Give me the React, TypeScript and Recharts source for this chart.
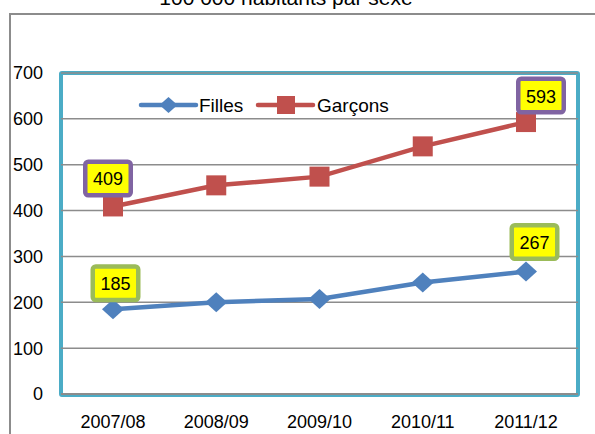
import React from 'react';
import { LineChart, Line, XAxis, YAxis, CartesianGrid, LabelList } from 'recharts';

const categories = ['2007/08', '2008/09', '2009/10', '2010/11', '2011/12'];
const filles = [185, 200, 207, 243, 267];
const garcons = [409, 455, 474, 540, 593];
const yTicks = [0, 100, 200, 300, 400, 500, 600, 700];
const seriesNames = ['Filles', 'Garçons'];
const labelledIndices = [0, 4];
const titleText = '100 000 habitants par sexe';

const data = categories.map((c, i) => ({ cat: c, filles: filles[i], garcons: garcons[i] }));

const FONT = '"Liberation Sans", Arial, Helvetica, sans-serif';
const BLUE = '#4F81BD';
const RED = '#C0504D';
const TEAL = '#4BACC6';
const GRID = '#8C8C8C';
const PURPLE = '#8064A2';
const GREEN = '#9BBB59';

const diamondPath = (cx: number, cy: number, hw: number, hh: number) =>
  `M${cx},${cy - hh} L${cx + hw},${cy} L${cx},${cy + hh} L${cx - hw},${cy} Z`;

const DiamondDot = (p: any) => {
  if (p.cx == null || p.cy == null) return <g key={p.key} />;
  return <path key={p.key} d={diamondPath(p.cx, p.cy, 11, 10)} fill={BLUE} />;
};

const SquareDot = (p: any) => {
  if (p.cx == null || p.cy == null) return <g key={p.key} />;
  return <rect key={p.key} x={p.cx - 10} y={p.cy - 10} width={20} height={20} fill={RED} />;
};

const makeLabel = (border: string, offsets: Record<number, [number, number]>) => (props: any) => {
  const { x, y, value, index } = props;
  if (!labelledIndices.includes(index)) return null;
  const [dx, dy] = offsets[index] || [0, -28];
  const cx = x + dx;
  const cy = y + dy;
  const w = 50;
  const h = 38;
  const sw = 4.5;
  return (
    <g key={`lbl-${index}`}>
      <rect
        x={cx - w / 2 + sw / 2}
        y={cy - h / 2 + sw / 2}
        width={w - sw}
        height={h - sw}
        rx={3}
        fill="#FFFF00"
        stroke={border}
        strokeWidth={sw}
      />
      <text x={cx} y={cy + 1} textAnchor="middle" dominantBaseline="central" fontSize={18} fontFamily={FONT} fill="#000">
        {value}
      </text>
    </g>
  );
};

const garconsLabel = makeLabel(PURPLE, { 0: [-5, -28], 4: [15, -26.5] });
const fillesLabel = makeLabel(GREEN, { 0: [2.5, -26], 4: [8.5, -29.5] });

const Legend = () => (
  <svg width={300} height={30} style={{ position: 'absolute', left: 130, top: 90, overflow: 'visible' }}>
    <g transform="translate(-130,-90)">
      <line x1={141} y1={105} x2={196} y2={105} stroke={BLUE} strokeWidth={4.5} strokeLinecap="round" />
      <path d={diamondPath(168.5, 105, 9, 8)} fill={BLUE} />
      <text x={199} y={105} dominantBaseline="central" fontSize={19} fontFamily={FONT} fill="#000">
        {seriesNames[0]}
      </text>
      <line x1={258} y1={105} x2={313} y2={105} stroke={RED} strokeWidth={4.5} strokeLinecap="round" />
      <rect x={277} y={96} width={18} height={18} fill={RED} />
      <text x={317} y={105} dominantBaseline="central" fontSize={19} fontFamily={FONT} fill="#000">
        {seriesNames[1]}
      </text>
    </g>
  </svg>
);

export default function App() {
  return (
    <div style={{ position: 'absolute', left: 0, top: 0, width: 595, height: 434, overflow: 'hidden', background: '#fff' }}>
      <div
        style={{
          position: 'absolute',
          left: 9,
          top: 13,
          width: 700,
          height: 600,
          border: '2px solid #8C8C8C',
        }}
      />
      <div
        style={{
          position: 'absolute',
          left: 0,
          width: 572,
          top: -14,
          textAlign: 'center',
          fontFamily: FONT,
          fontSize: 21,
          lineHeight: '24px',
          color: '#000',
          whiteSpace: 'nowrap',
        }}
      >
        {titleText}
      </div>
      <div
        style={{
          position: 'absolute',
          left: 59,
          top: 71,
          width: 513,
          height: 318,
          border: `4px solid ${TEAL}`,
          borderRadius: 3,
        }}
      />
      <div style={{ position: 'absolute', left: 0, top: 0 }}>
        <LineChart width={595} height={434} data={data} margin={{ top: 73, right: 17, bottom: 0, left: 0 }}>
          <CartesianGrid vertical={false} stroke={GRID} strokeWidth={1.5} />
          <XAxis
            dataKey="cat"
            height={40}
            padding={{ left: 52, right: 52 }}
            tickLine={false}
            tickSize={0}
            tickMargin={21}
            axisLine={{ stroke: GRID, strokeWidth: 2 }}
            tick={{ fontSize: 18, fontFamily: FONT, fill: '#000' }}
            interval={0}
          />
          <YAxis
            width={61}
            domain={[0, 700]}
            ticks={yTicks}
            axisLine={false}
            tickLine={false}
            tickSize={0}
            tickMargin={18}
            tick={{ fontSize: 18, fontFamily: FONT, fill: '#000' }}
            interval={0}
          />
          <Line
            dataKey="filles"
            name={seriesNames[0]}
            stroke={BLUE}
            strokeWidth={4.5}
            dot={DiamondDot}
            activeDot={false}
            isAnimationActive={false}
          >
            <LabelList dataKey="filles" content={fillesLabel} />
          </Line>
          <Line
            dataKey="garcons"
            name={seriesNames[1]}
            stroke={RED}
            strokeWidth={4.5}
            dot={SquareDot}
            activeDot={false}
            isAnimationActive={false}
          >
            <LabelList dataKey="garcons" content={garconsLabel} />
          </Line>
        </LineChart>
      </div>
      <Legend />
    </div>
  );
}
